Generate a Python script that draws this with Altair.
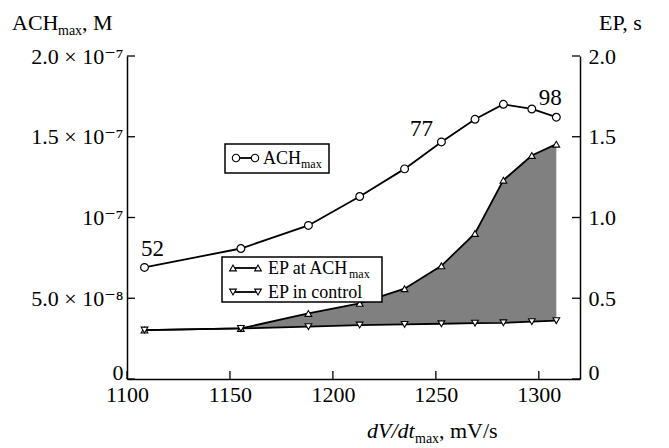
import altair as alt
import pandas as pd

# ---- data ----
dvdt = [1108.5, 1155.3, 1188.1, 1213.0, 1234.8, 1252.7, 1269.0, 1282.8, 1296.6, 1308.5]
ach_max = [0.691e-7, 0.808e-7, 0.951e-7, 1.130e-7, 1.301e-7, 1.468e-7, 1.608e-7, 1.701e-7, 1.672e-7, 1.621e-7]
ep_at_ach = [0.303, 0.313, 0.406, 0.468, 0.559, 0.701, 0.901, 1.231, 1.384, 1.454]
ep_control = [0.303, 0.313, 0.324, 0.334, 0.338, 0.342, 0.346, 0.348, 0.355, 0.361]

annot_idx = [0, 5, 9]
annot_text = ["52", "77", "98"]

x_ticks = [1100, 1150, 1200, 1250, 1300]
left_ticks = [0, 5e-8, 1e-7, 1.5e-7, 2e-7]
left_tick_labels = ["0", "5.0 × 10⁻⁸", "10⁻⁷", "1.5 × 10⁻⁷", "2.0 × 10⁻⁷"]
right_ticks = [0, 0.5, 1.0, 1.5, 2.0]
right_tick_labels = ["0", "0.5", "1.0", "1.5", "2.0"]

# ---- layout ----
W, H = 453, 323
FONT = "Liberation Serif, Times New Roman, DejaVu Serif, serif"
TICK_LEN = 8

df = pd.DataFrame({"dvdt": dvdt, "ach": ach_max, "ep_at": ep_at_ach, "ep_ctrl": ep_control})
one = pd.DataFrame({"k": [0]})


def label_expr(vals, labels, scale=1.0):
    expr = "''"
    for v, lab in reversed(list(zip(vals, labels))):
        expr = f"round(datum.value*{scale}) == {round(v * scale)} ? '{lab}' : ({expr})"
    return expr


AX = dict(labelFont=FONT, labelFontSize=22, labelColor="black", domainColor="black",
          domainWidth=1.5, ticks=False, grid=False, title=None, labelFlush=False,
          labelOverlap=False)
ZERO_BASELINE = {"condition": {"test": "datum.value == 0", "value": "alphabetic"}, "value": "middle"}

x_axis = alt.Axis(values=x_ticks, labelExpr=label_expr(x_ticks, [str(t) for t in x_ticks]),
                  labelPadding=5, **AX)
left_axis = alt.Axis(values=left_ticks, labelExpr=label_expr(left_ticks, left_tick_labels, 1e9),
                     orient="left", labelPadding=4, labelBaseline=ZERO_BASELINE, **AX)
right_axis = alt.Axis(values=right_ticks, labelExpr=label_expr(right_ticks, right_tick_labels, 10),
                      orient="right", labelPadding=8, labelBaseline=ZERO_BASELINE, **AX)

xs = alt.Scale(domain=[1100, 1320], nice=False, zero=False)
ysl = alt.Scale(domain=[0, 2e-7], nice=False)
ysr = alt.Scale(domain=[0, 2.0], nice=False)


def X(f):
    return alt.X(f, type="quantitative", scale=xs, axis=x_axis)


def YL(f):
    return alt.Y(f, type="quantitative", scale=ysl, axis=left_axis)


def YR(f):
    return alt.Y(f, type="quantitative", scale=ysr, axis=right_axis)


def txt(s, x, y, size=22, style="normal", align="left"):
    return alt.Chart(one).mark_text(text=s, font=FONT, fontSize=size, fontStyle=style,
                                    align=align, baseline="alphabetic", color="black").encode(
        x=alt.value(x), y=alt.value(y))


base = alt.Chart(df)

# ---- right (EP) group ----
area = base.mark_area(color="#808080", opacity=1).encode(x=X("dvdt"), y=YR("ep_at"), y2="ep_ctrl")
ep_at_line = base.mark_line(color="black", strokeWidth=1.8).encode(x=X("dvdt"), y=YR("ep_at"))
ep_ctrl_line = base.mark_line(color="black", strokeWidth=1.8).encode(x=X("dvdt"), y=YR("ep_ctrl"))
ep_at_pts = base.mark_point(shape="triangle-up", filled=True, fill="white", stroke="black",
                            strokeWidth=1.1, size=45, opacity=1).encode(x=X("dvdt"), y=YR("ep_at"))
ep_ctrl_pts = base.mark_point(shape="triangle-down", filled=True, fill="white", stroke="black",
                              strokeWidth=1.1, size=45, opacity=1).encode(x=X("dvdt"), y=YR("ep_ctrl"))
rt = alt.Chart(pd.DataFrame({"v": right_ticks})).mark_rule(color="black", strokeWidth=1.3).encode(
    y=YR("v"), x=alt.value(W - TICK_LEN), x2=alt.value(W))
right_group = alt.layer(area, ep_at_line, ep_ctrl_line, ep_at_pts, ep_ctrl_pts, rt)

# ---- left (ACH) group ----
ach_line = base.mark_line(color="black", strokeWidth=1.8).encode(x=X("dvdt"), y=YL("ach"))
ach_pts = base.mark_point(shape="circle", filled=True, fill="white", stroke="black",
                          strokeWidth=1.2, size=60, opacity=1).encode(x=X("dvdt"), y=YL("ach"))
offsets = [(8, -11), (-20, -6), (-6, -12)]
annots = []
for i, t, (dx, dy) in zip(annot_idx, annot_text, offsets):
    d = pd.DataFrame({"dvdt": [dvdt[i]], "ach": [ach_max[i]]})
    annots.append(alt.Chart(d).mark_text(text=t, font=FONT, fontSize=23, align="center",
                                         baseline="alphabetic", dx=dx, dy=dy, color="black").encode(
        x=X("dvdt"), y=YL("ach")))
lt = alt.Chart(pd.DataFrame({"v": left_ticks})).mark_rule(color="black", strokeWidth=1.3).encode(
    y=YL("v"), x=alt.value(0), x2=alt.value(TICK_LEN))
xt = alt.Chart(pd.DataFrame({"v": x_ticks})).mark_rule(color="black", strokeWidth=1.3).encode(
    x=X("v"), y=alt.value(H), y2=alt.value(H - TICK_LEN))
left_group = alt.layer(ach_line, ach_pts, *annots, lt, xt)


# ---- legends and titles ----
def box(x1, x2, y1, y2):
    return alt.Chart(one).mark_rect(fill="white", stroke="black", strokeWidth=1.5).encode(
        x=alt.value(x1), x2=alt.value(x2), y=alt.value(y1), y2=alt.value(y2))


def seg(x1, x2, y):
    return alt.Chart(one).mark_rule(color="black", strokeWidth=1.8).encode(
        x=alt.value(x1), x2=alt.value(x2), y=alt.value(y))


def sym(shape, x, y, size):
    return alt.Chart(one).mark_point(shape=shape, filled=True, fill="white", stroke="black",
                                     strokeWidth=1.1, size=size, opacity=1).encode(
        x=alt.value(x), y=alt.value(y))


leg = [
    box(98, 202, 88, 117),
    seg(109, 128, 102), sym("circle", 109, 102, 55), sym("circle", 128, 102, 55),
    txt("ACH", 136, 108, 18), txt("max", 174, 112, 12),
    box(95, 255, 201, 246),
    seg(106, 131, 212), sym("triangle-up", 106, 212, 45), sym("triangle-up", 131, 212, 45),
    txt("EP at ACH", 141, 218, 18), txt("max", 222, 222, 12),
    seg(106, 131, 236), sym("triangle-down", 106, 236, 45), sym("triangle-down", 131, 236, 45),
    txt("EP in control", 141, 242, 18),
    # axis titles
    txt("ACH", -115, -26, 22), txt("max", -69, -21, 14), txt(", M", -45, -26, 22),
    txt("EP, s", W + 19, -26, 22),
    txt("dV/dt", 240, H + 59, 22, "italic"), txt("max", 288, H + 64, 14), txt(", mV/s", 312, H + 59, 22),
]
legend_group = alt.layer(*leg)

chart = alt.layer(right_group, left_group, legend_group).resolve_scale(y="independent").properties(
    width=W, height=H, padding={"left": 4, "top": 4, "right": 5, "bottom": 0}
).configure_view(stroke=None)

chart.save("out.html", embed_options={"renderer": "svg", "actions": False})
